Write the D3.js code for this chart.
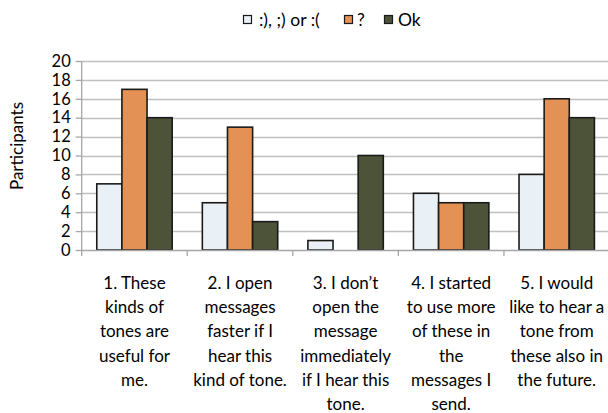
<!DOCTYPE html>
<html><head><meta charset="utf-8">
<script src="https://cdn.jsdelivr.net/npm/d3@7"></script>
<style>body{margin:0;background:#fff}svg{display:block}text{font-family:Lato,"Open Sans",sans-serif;fill:#000}</style>
</head><body><svg id="c" width="608" height="413"></svg>
<script>
const categories = [
  ["1. These","kinds of","tones are","useful for","me."],
  ["2. I open","messages","faster if I","hear this","kind of tone."],
  ["3. I don\u2019t","open the","message","immediately","if I hear this","tone."],
  ["4. I started","to use more","of these in","the","messages I","send."],
  ["5. I would","like to hear a","tone from","these also in","the future."]
];
const seriesNames = [":), ;) or :(", "?", "Ok"];
const seriesColors = ["#eaf1f6", "#e39155", "#4d5339"];
const smileyValues = [7, 5, 1, 6, 8];
const questionValues = [17, 13, 0, 5, 16];
const okValues = [14, 3, 10, 5, 14];
const yTicks = [0,2,4,6,8,10,12,14,16,18,20];

const series = [smileyValues, questionValues, okValues];
const svg = d3.select("#c");
const pLeft = 81.7, pRight = 609.5, pTop = 61, pBottom = 250;

const x = d3.scaleBand().domain(d3.range(categories.length)).range([pLeft, pRight]).paddingInner(0).paddingOuter(0);
const xs = d3.scaleBand().domain(d3.range(series.length)).range([0, x.bandwidth()]).paddingInner(0).paddingOuter(0.6);
const y = d3.scaleLinear().domain([0, 20]).range([pBottom, pTop]);

// gridlines
svg.append("g").selectAll("line").data(yTicks.filter(d => d > 0)).join("line")
  .attr("x1", pLeft).attr("x2", pRight)
  .attr("y1", d => Math.round(y(d)) + 0.5).attr("y2", d => Math.round(y(d)) + 0.5)
  .attr("stroke", "#c0c0c0").attr("stroke-width", 1.3);

// y axis
const ya = svg.append("g").attr("transform", `translate(${pLeft},0)`)
  .call(d3.axisLeft(y).tickValues(yTicks).tickSize(6).tickPadding(5));
ya.select(".domain").attr("stroke", "#a6a6a6").attr("stroke-width", 1.3).attr("d", `M0,${pTop}V${pBottom}`);
ya.selectAll(".tick line").attr("stroke", "#a6a6a6").attr("stroke-width", 1.3);
ya.selectAll(".tick text").attr("font-size", 16.5).style("font-family", "Lato, sans-serif").attr("fill", "#000");

// bars
series.forEach((vals, si) => {
  svg.append("g").selectAll("rect").data(vals.map((v, ci) => ({v, ci})).filter(d => d.v > 0)).join("rect")
    .attr("x", d => x(d.ci) + xs(si))
    .attr("y", d => y(d.v))
    .attr("width", xs.bandwidth())
    .attr("height", d => y(0) - y(d.v))
    .attr("fill", seriesColors[si])
    .attr("stroke", "#1a1a1a").attr("stroke-width", 1.6);
});

// x axis
const xa = svg.append("g");
xa.append("line").attr("x1", pLeft).attr("x2", pRight).attr("y1", pBottom + 0.5).attr("y2", pBottom + 0.5)
  .attr("stroke", "#a6a6a6").attr("stroke-width", 1.3);
xa.selectAll("line.t").data(d3.range(categories.length + 1)).join("line").attr("class", "t")
  .attr("x1", d => (d < categories.length ? x(d) : pRight)).attr("x2", d => (d < categories.length ? x(d) : pRight))
  .attr("y1", pBottom).attr("y2", pBottom + 6).attr("stroke", "#a6a6a6").attr("stroke-width", 1.3);

// category labels
const cl = svg.append("g").selectAll("text").data(categories).join("text")
  .attr("text-anchor", "middle").attr("font-size", 17)
  .attr("x", (d, i) => x(i) + x.bandwidth() / 2).attr("y", 289);
cl.selectAll("tspan").data(d => d).join("tspan")
  .attr("x", function() { return this.parentNode.getAttribute("x"); })
  .attr("dy", (d, i) => i === 0 ? 0 : 24.2).text(d => d);

// y title
svg.append("text").attr("transform", "translate(23,146) rotate(-90)")
  .attr("text-anchor", "middle").attr("font-size", 17).text("Participants");

// legend
const legX = [243, 344, 384];
const legTx = [16, 13, 14];
const leg = svg.append("g").selectAll("g").data(seriesNames).join("g")
  .attr("transform", (d, i) => `translate(${legX[i]},0)`);
leg.append("rect").attr("x", 0.5).attr("y", 15.5).attr("width", 8).attr("height", 8)
  .attr("fill", (d, i) => seriesColors[i]).attr("stroke", "#1a1a1a").attr("stroke-width", 1.2);
leg.append("text").attr("x", (d, i) => legTx[i]).attr("y", 25.5).attr("font-size", 17.5).text(d => d);
</script></body></html>
